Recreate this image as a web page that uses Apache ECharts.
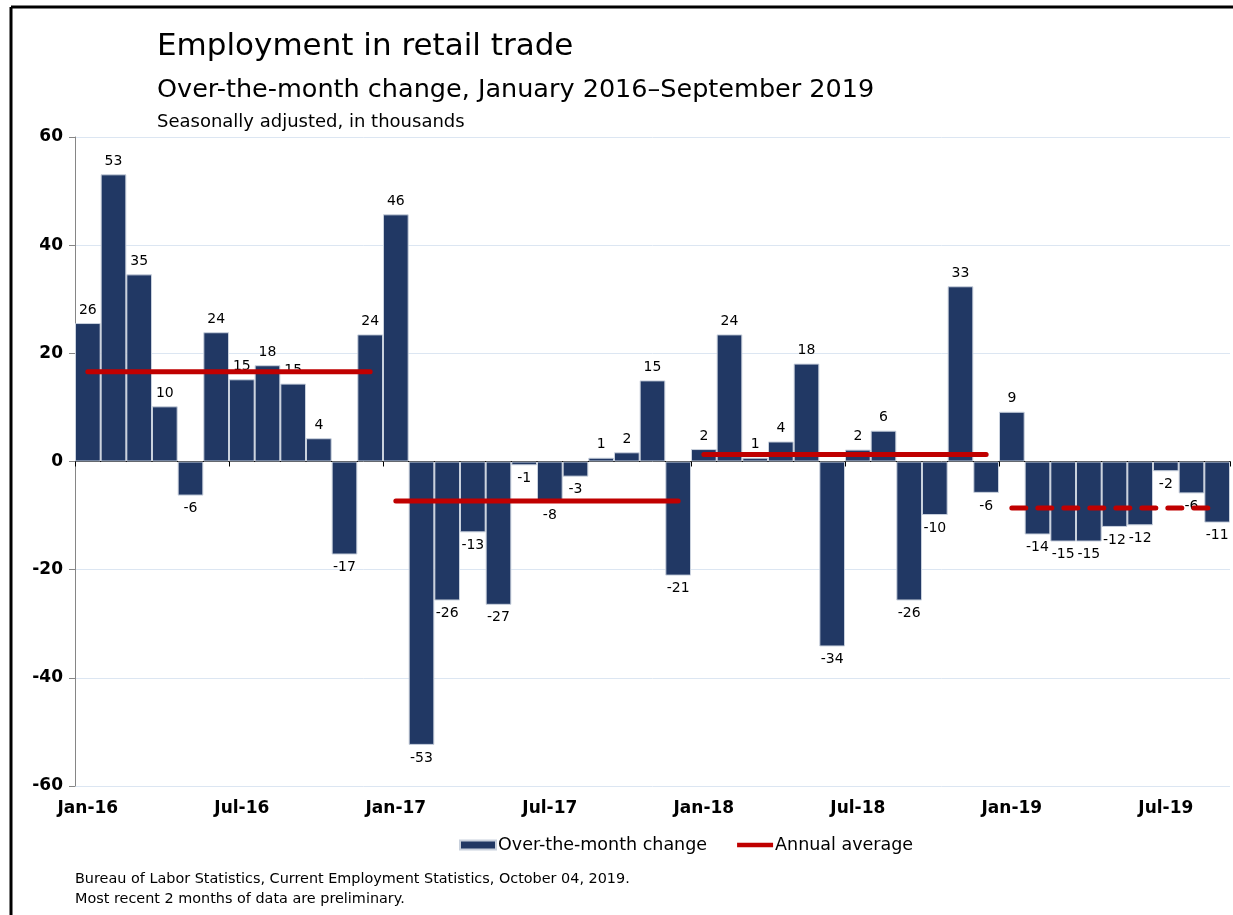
<!DOCTYPE html>
<html>
<head>
<meta charset="utf-8">
<title>Employment in retail trade</title>
<script src="https://cdn.jsdelivr.net/npm/echarts@6/dist/echarts.min.js"></script>
<style>
  html, body { margin: 0; padding: 0; background: #fff; }
  #main { width: 1233px; height: 915px; }
</style>
</head>
<body>
<div id="main"></div>
<script>
// months Jan 2016 - Sep 2019
var months = [
  'Jan-16','Feb-16','Mar-16','Apr-16','May-16','Jun-16','Jul-16','Aug-16','Sep-16','Oct-16','Nov-16','Dec-16',
  'Jan-17','Feb-17','Mar-17','Apr-17','May-17','Jun-17','Jul-17','Aug-17','Sep-17','Oct-17','Nov-17','Dec-17',
  'Jan-18','Feb-18','Mar-18','Apr-18','May-18','Jun-18','Jul-18','Aug-18','Sep-18','Oct-18','Nov-18','Dec-18',
  'Jan-19','Feb-19','Mar-19','Apr-19','May-19','Jun-19','Jul-19','Aug-19','Sep-19'
];

// over-the-month change, thousands
var change = [
  25.6, 53.1, 34.6, 10.2, -6.3, 23.9, 15.2, 17.8, 14.4, 4.3, -17.2, 23.5,
  45.7, -52.4, -25.7, -13.1, -26.5, -0.7, -7.6, -2.8, 0.7, 1.7, 15.0, -21.1,
  2.3, 23.5, 0.7, 3.7, 18.1, -34.2, 2.2, 5.7, -25.7, -9.9, 32.4, -5.8,
  9.2, -13.5, -14.8, -14.8, -12.1, -11.8, -1.8, -5.9, -11.3
];

// labels as printed on the chart
var changeLabels = [
  26, 53, 35, 10, -6, 24, 15, 18, 15, 4, -17, 24,
  46, -53, -26, -13, -27, -1, -8, -3, 1, 2, 15, -21,
  2, 24, 1, 4, 18, -34, 2, 6, -26, -10, 33, -6,
  9, -14, -15, -15, -12, -12, -2, -6, -11
];

// annual averages per year
var years = ['2016', '2017', '2018', '2019'];
var annualAvg = [16.6, -7.3, 1.3, -8.6];

var yTicks = [-60, -40, -20, 0, 20, 40, 60];

var navy = '#213864';
var red = '#c00000';
var font = 'Tahoma, "DejaVu Sans", sans-serif';

var chart = echarts.init(document.getElementById('main'));

// bar data with label above / below
var barData = change.map(function (v, i) {
  return {
    value: v,
    label: {
      position: v >= 0 ? 'top' : 'bottom',
      formatter: String(changeLabels[i])
    }
  };
});

// one line per year, from first to last month of that year
var avgSeries = years.map(function (yr, k) {
  var d = months.map(function (m, i) {
    return Math.floor(i / 12) === k ? annualAvg[k] : null;
  });
  return {
    name: 'Annual average',
    type: 'line',
    xAxisIndex: 0,
    data: d,
    symbol: 'none',
    z: 5,
    lineStyle: {
      color: red,
      width: 5,
      cap: 'round',
      type: yr === '2019' ? [14, 12] : 'solid'  // 2019 preliminary -> dashed
    },
    itemStyle: { color: red }
  };
});

var option = {
  backgroundColor: '#fff',
  animation: false,
  textStyle: { fontFamily: font },
  title: [
    { text: 'Employment in retail trade', left: 152, top: 26,
      textStyle: { fontSize: 31, fontWeight: 'normal', color: '#000', fontFamily: font } },
    { text: 'Over-the-month change, January 2016\u2013September 2019', left: 152, top: 72,
      textStyle: { fontSize: 25.5, fontWeight: 'normal', color: '#000', fontFamily: font } },
    { text: 'Seasonally adjusted, in thousands', left: 152, top: 108,
      textStyle: { fontSize: 18, fontWeight: 'normal', color: '#000', fontFamily: font } },
    { text: 'Bureau of Labor Statistics, Current Employment Statistics, October 04, 2019.\nMost recent 2 months of data are preliminary.',
      left: 70, top: 864,
      textStyle: { fontSize: 14.4, fontWeight: 'normal', color: '#000', lineHeight: 20, fontFamily: font } }
  ],
  legend: {
    left: 454,
    top: 831,
    itemGap: 30,
    itemWidth: 36,
    itemHeight: 9,
    textStyle: { fontSize: 17.5, color: '#000', padding: [0, 0, 0, -3] },
    data: [
      { name: 'Over-the-month change', icon: 'rect' },
      { name: 'Annual average', icon: 'path://M0,0h40v5h-40z', itemStyle: { color: red } }
    ]
  },
  grid: { left: 75, right: 3, top: 137, bottom: 129 },
  xAxis: [
    {
      // axis at zero: line + ticks only
      type: 'category',
      data: months,
      axisLine: { onZero: true, lineStyle: { color: '#000', width: 1 } },
      axisTick: { show: true, interval: 5, length: 5, inside: false, lineStyle: { color: '#000' } },
      axisLabel: { show: false },
      splitLine: { show: false }
    },
    {
      // labels along the bottom
      type: 'category',
      data: months,
      position: 'bottom',
      axisLine: { show: false, onZero: false },
      axisTick: { show: false },
      axisLabel: { interval: 5, fontSize: 17, fontWeight: 'bold', color: '#000', margin: 14 },
      splitLine: { show: false }
    }
  ],
  yAxis: {
    type: 'value',
    min: yTicks[0],
    max: yTicks[yTicks.length - 1],
    interval: 20,
    axisLine: { show: true, lineStyle: { color: '#868686' } },
    axisTick: { show: true, length: 6, lineStyle: { color: '#868686' } },
    axisLabel: { fontSize: 17, fontWeight: 'bold', color: '#000', margin: 12 },
    splitLine: { lineStyle: { color: '#dce6f2', width: 1 } }
  },
  series: [
    {
      name: 'Over-the-month change',
      type: 'bar',
      xAxisIndex: 0,
      data: barData,
      barCategoryGap: '0%',
      itemStyle: { color: navy, borderColor: '#c9d1dd', borderWidth: 1 },
      label: { show: true, fontSize: 14, color: '#000', distance: 6 },
      z: 2
    }
  ].concat(avgSeries),
  graphic: [
    // frame on the left and top
    { type: 'line', shape: { x1: 11, y1: 7, x2: 1233, y2: 7 }, style: { stroke: '#000', lineWidth: 3 } },
    { type: 'line', shape: { x1: 11, y1: 7, x2: 11, y2: 915 }, style: { stroke: '#000', lineWidth: 3 } }
  ]
};

chart.setOption(option);
</script>
</body>
</html>
